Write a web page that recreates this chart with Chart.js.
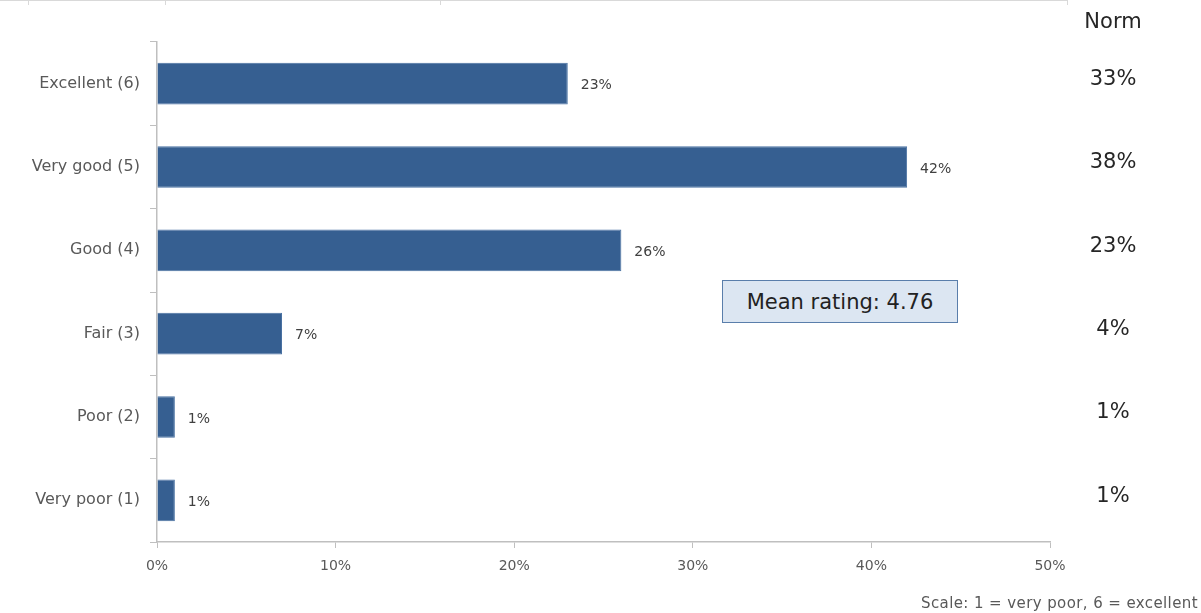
<!DOCTYPE html>
<html>
<head>
<meta charset="utf-8">
<script src="https://cdn.jsdelivr.net/npm/chart.js@4/dist/chart.umd.min.js"></script>
<style>
  html, body { margin: 0; padding: 0; background: #fff; }
  #wrap { position: relative; width: 1201px; height: 613px; overflow: hidden; }
  #topline { position: absolute; left: 0; top: 0; width: 1068px; height: 0; border-top: 1px solid #d9d9d9; }
  .tk { position: absolute; top: 0; width: 0; height: 5px; border-left: 1px solid #d9d9d9; }
  #mean {
    position: absolute; left: 722px; top: 280px; width: 234px; height: 41px;
    background: #dce6f2; border: 1px solid #5a7eab;
    font: 21px "DejaVu Sans", sans-serif; color: #222;
    display: flex; align-items: center; justify-content: center; box-sizing: content-box;
  }
  #note {
    position: absolute; right: 3px; bottom: 1px;
    font: 15px "DejaVu Sans", sans-serif; color: #595959; letter-spacing: 0.4px;
  }
</style>
</head>
<body>
<div id="wrap">
  <canvas id="chart" width="1201" height="613"></canvas>
  <div id="topline"></div>
  <div class="tk" style="left:28px"></div>
  <div class="tk" style="left:165px"></div>
  <div class="tk" style="left:440px"></div>
  <div class="tk" style="left:1067px"></div>
  <div id="mean">Mean rating: 4.76</div>
  <div id="note">Scale: 1 = very poor, 6 = excellent</div>
</div>
<script>
// Datos del gráfico
const categories = ['Excellent (6)', 'Very good (5)', 'Good (4)', 'Fair (3)', 'Poor (2)', 'Very poor (1)'];
const ratingValues = [23, 42, 26, 7, 1, 1];
const normValues = [33, 38, 23, 4, 1, 1];
const xTicks = [0, 10, 20, 30, 40, 50];

const FONT = '"DejaVu Sans", sans-serif';
const AXIS_GRAY = '#bfbfbf';

// Etiquetas al final de cada barra
const barLabels = {
  id: 'barLabels',
  afterDatasetsDraw(chart) {
    const ctx = chart.ctx;
    const meta = chart.getDatasetMeta(0);
    ctx.save();
    ctx.font = '14px ' + FONT;
    ctx.fillStyle = '#404040';
    ctx.textAlign = 'left';
    ctx.textBaseline = 'middle';
    meta.data.forEach((bar, i) => {
      ctx.fillText(ratingValues[i] + '%', bar.x + 13, bar.y + 2);
    });
    ctx.restore();
  }
};

// Columna "Norm" a la derecha
const normColumn = {
  id: 'normColumn',
  afterDraw(chart) {
    const ctx = chart.ctx;
    const y = chart.scales.y;
    const cx = 1113;
    ctx.save();
    ctx.fillStyle = '#262626';
    ctx.textAlign = 'center';
    ctx.textBaseline = 'middle';
    ctx.font = '21px ' + FONT;
    ctx.fillText('Norm', cx, 23);
    normValues.forEach((v, i) => {
      ctx.fillText(v + '%', cx, y.getPixelForValue(i) - 4);
    });
    ctx.restore();
  }
};

new Chart(document.getElementById('chart').getContext('2d'), {
  type: 'bar',
  data: {
    labels: categories,
    datasets: [{
      data: ratingValues,
      backgroundColor: '#365f91',
      borderColor: '#4a72a3',
      borderWidth: 1,
      barPercentage: 0.5,
      categoryPercentage: 1
    }]
  },
  options: {
    indexAxis: 'y',
    responsive: false,
    animation: false,
    layout: { padding: { top: 42, right: 151, left: 0, bottom: 0 } },
    plugins: { legend: { display: false }, tooltip: { enabled: false } },
    scales: {
      x: {
        min: 0,
        max: 50,
        afterBuildTicks(axis) { axis.ticks = xTicks.map(v => ({ value: v })); },
        afterFit(axis) { axis.height = 71; },
        grid: {
          drawOnChartArea: false,
          color: AXIS_GRAY,
          tickLength: 6
        },
        border: { color: AXIS_GRAY, width: 1.5 },
        ticks: {
          padding: 10,
          color: '#595959',
          font: { family: FONT, size: 14 },
          callback: v => v + '%'
        }
      },
      y: {
        afterFit(axis) { axis.width = 157; },
        grid: {
          drawOnChartArea: false,
          color: AXIS_GRAY,
          tickLength: 7,
          offset: true
        },
        border: { color: AXIS_GRAY, width: 1.5 },
        ticks: {
          padding: 10,
          color: '#595959',
          font: { family: FONT, size: 16 }
        }
      }
    }
  },
  plugins: [barLabels, normColumn]
});
</script>
</body>
</html>
